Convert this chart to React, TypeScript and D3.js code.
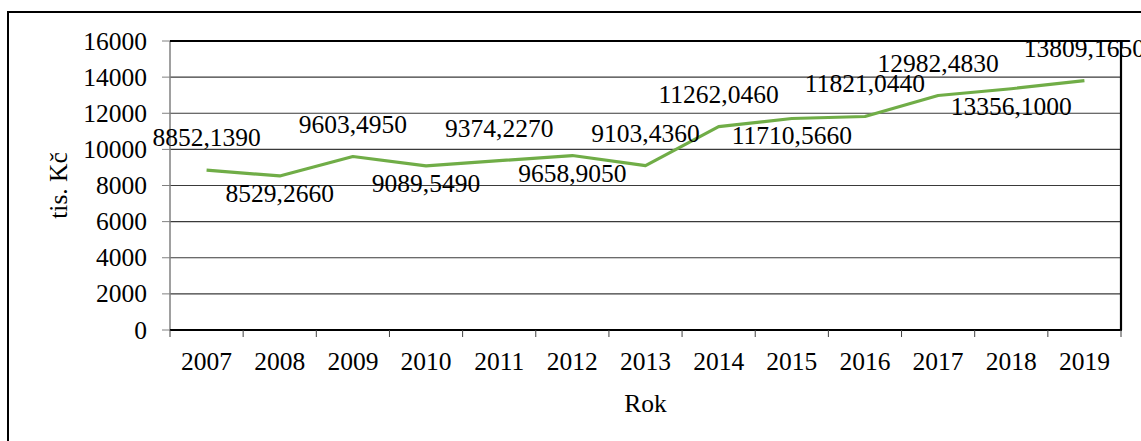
import React from 'react';
import * as d3 from 'd3';

const years = ['2007', '2008', '2009', '2010', '2011', '2012', '2013', '2014', '2015', '2016', '2017', '2018', '2019'];
const values = [8852.139, 8529.266, 9603.495, 9089.549, 9374.227, 9658.905, 9103.436, 11262.046, 11710.566, 11821.044, 12982.483, 13356.1, 13809.165];
const labels = ['8852,1390', '8529,2660', '9603,4950', '9089,5490', '9374,2270', '9658,9050', '9103,4360', '11262,0460', '11710,5660', '11821,0440', '12982,4830', '13356,1000', '13809,1650'];
// where Excel put each data label relative to its point
const placement = ['above', 'below', 'above', 'below', 'above', 'below', 'above', 'above', 'below', 'above', 'above', 'below', 'above'];
const yTicks = [0, 2000, 4000, 6000, 8000, 10000, 12000, 14000, 16000];

const W = 1141;
const H = 441;
const plot = { left: 170, right: 1121, top: 41, bottom: 330 };
const FONT = '"Liberation Serif", "Times New Roman", serif';
const FS = 25.5;

const App: React.FC = () => {
  const x = d3.scaleBand<string>().domain(years).range([plot.left, plot.right]);
  const y = d3.scaleLinear().domain([0, 16000]).range([plot.bottom, plot.top]);

  const line = d3.line<number>()
    .x((_, i) => (x(years[i]) ?? 0) + x.bandwidth() / 2)
    .y(d => y(d));

  const bw = x.bandwidth();
  const boundaries = years.map(yr => x(yr) ?? 0).concat([plot.right]);

  return (
    <svg
      width={W}
      height={H}
      style={{ position: 'absolute', left: 0, top: 0, background: '#fff' }}
      fontFamily={FONT}
    >
      {/* outer chart frame, runs past the right and bottom edge */}
      <rect x={8} y={12} width={W + 20} height={H + 20} fill="#fff" stroke="#000" strokeWidth={2} />

      {/* gridlines */}
      {yTicks.filter(t => t > 0 && t < 16000).map(t => (
        <line key={t} x1={plot.left} x2={plot.right} y1={y(t)} y2={y(t)} stroke="#3a3a3a" strokeWidth={1.2} />
      ))}

      {/* y axis line and ticks */}
      <line x1={plot.left} x2={plot.left} y1={plot.top} y2={plot.bottom} stroke="#808080" strokeWidth={1.5} />
      {yTicks.map(t => (
        <g key={t}>
          <line x1={plot.left - 8} x2={plot.left} y1={y(t)} y2={y(t)} stroke="#808080" strokeWidth={1} />
          <text x={147} y={y(t)} dy={8.5} textAnchor="end" fontSize={FS} fill="#000">{t}</text>
        </g>
      ))}

      {/* top and right border */}
      <line x1={plot.left} x2={plot.right + 1} y1={plot.top} y2={plot.top} stroke="#000" strokeWidth={2.2} />
      <line x1={plot.right} x2={plot.right} y1={plot.top} y2={plot.bottom} stroke="#000" strokeWidth={2.2} />

      {/* x axis */}
      <line x1={plot.left} x2={plot.right + 1} y1={plot.bottom} y2={plot.bottom} stroke="#000" strokeWidth={2.2} />
      {boundaries.map((b, i) => (
        <line key={i} x1={b} x2={b} y1={plot.bottom} y2={plot.bottom + 7} stroke="#404040" strokeWidth={1} />
      ))}
      {years.map(yr => (
        <text key={yr} x={(x(yr) ?? 0) + bw / 2} y={370} textAnchor="middle" fontSize={FS} fill="#000">{yr}</text>
      ))}

      {/* series line */}
      <path d={line(values) ?? ''} fill="none" stroke="#70ad47" strokeWidth={3.2} strokeLinejoin="round" />

      {/* data labels */}
      {values.map((v, i) => (
        <text
          key={i}
          x={(x(years[i]) ?? 0) + bw / 2}
          y={y(v) + (placement[i] === 'above' ? -24 : 26)}
          textAnchor="middle"
          fontSize={FS}
          fill="#000"
        >
          {labels[i]}
        </text>
      ))}

      {/* axis titles */}
      <text x={(plot.left + plot.right) / 2} y={412} textAnchor="middle" fontSize={FS} fill="#000">Rok</text>
      <text transform={`translate(67,${(plot.top + plot.bottom) / 2}) rotate(-90)`} textAnchor="middle" fontSize={FS} fill="#000">tis. Kč</text>
    </svg>
  );
};

export default App;
